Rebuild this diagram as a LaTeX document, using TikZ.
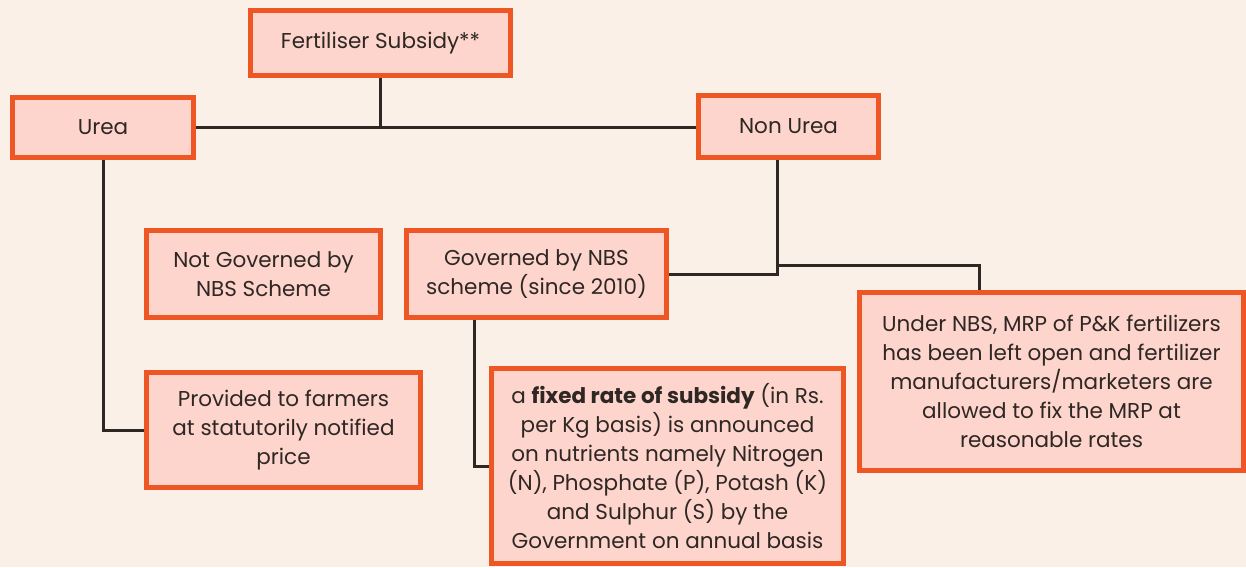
\documentclass[tikz,border=0pt]{standalone}
\usepackage{fontspec}
\setmainfont{Poppins}
\usetikzlibrary{calc}
\definecolor{bg}{HTML}{FAF0E8}
\definecolor{boxfill}{HTML}{FDD5CC}
\definecolor{boxline}{HTML}{EE5624}
\definecolor{ink}{HTML}{2E2724}
\tikzset{
  card/.style={draw=boxline, fill=boxfill, line width=5pt, align=center,
    text=ink, inner sep=0pt, font=\fontsize{21.5}{29}\selectfont},
  link/.style={draw=ink, line width=3pt}
}
\begin{document}
\begin{tikzpicture}[x=1pt,y=-1pt]
\fill[bg] (0,0) rectangle (1246,567);
\useasboundingbox (0,0) rectangle (1246,567);

\node[card, minimum width=260, minimum height=65] (top) at (380.5,43) {Fertiliser Subsidy**};
\node[card, minimum width=181, minimum height=60] (urea) at (103,127.5) {Urea};
\node[card, minimum width=180, minimum height=62] (nonurea) at (788.5,126.5) {Non Urea};
\node[card, minimum width=234, minimum height=87] (notgov) at (263.5,274) {Not Governed by\\NBS Scheme};
\node[card, minimum width=260, minimum height=87] (gov) at (536.5,274) {Governed by NBS\\scheme (since 2010)};
\node[card, minimum width=274, minimum height=115] (provided) at (283.5,430) {Provided to farmers\\at statutorily notified\\price};
\node[card, minimum width=352, minimum height=195] (fixed) at (667.5,466)
  {a \textbf{fixed rate of subsidy} (in Rs.\\per Kg basis) is announced\\on nutrients namely Nitrogen\\(N), Phosphate (P), Potash (K)\\and Sulphur (S) by the\\Government on annual basis};
\node[card, minimum width=384, minimum height=178] (under) at (1051.5,381.5)
  {Under NBS, MRP of P\&K fertilizers\\has been left open and fertilizer\\manufacturers/marketers are\\allowed to fix the MRP at\\reasonable rates};

% junction points of the connectors
\coordinate (nub) at ([xshift=-11]nonurea.south);
\coordinate (gb) at ([xshift=-62]gov.south);
\coordinate (ut) at ([xshift=-72]under.north);
\coordinate (j) at ($(nub)+(0,105)$);

\draw[link] (top.south) -- (top.south |- urea.east);
\draw[link] (urea.east) -- (urea.east -| nonurea.west);
\draw[link] (urea.south) |- (provided.west);
\draw[link] (nub) |- (gov.east);
\draw[link] (j) -| (ut);
\draw[link] (gb) |- (fixed.west);
\end{tikzpicture}
\end{document}
